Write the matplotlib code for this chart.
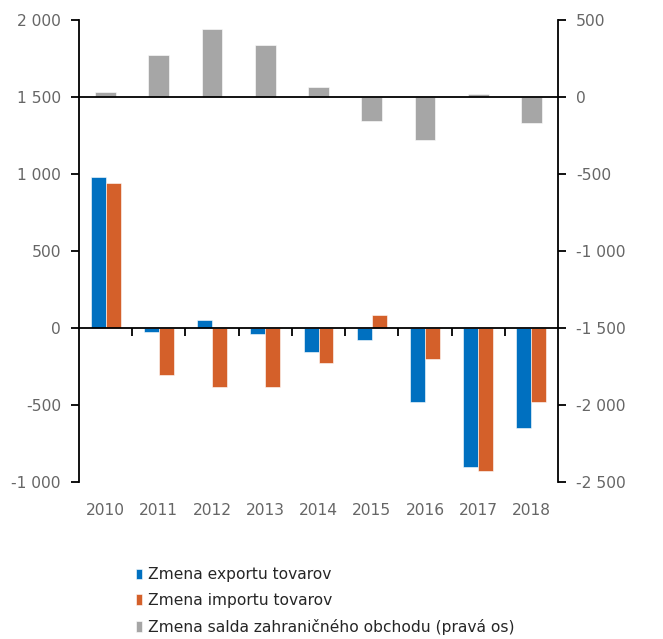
import numpy as np
import matplotlib.pyplot as plt
from matplotlib.ticker import FuncFormatter

# Data
years = ["2010", "2011", "2012", "2013", "2014", "2015", "2016", "2017", "2018"]
export_chg = [980, -26, 55, -41, -156, -75, -483, -903, -651]
import_chg = [940, -303, -383, -383, -229, 87, -199, -929, -483]
balance_chg = [34, 271, 440, 336, 67, -158, -281, 17, -169]

labels = ["Zmena exportu tovarov",
          "Zmena importu tovarov",
          "Zmena salda zahraničného obchodu (pravá os)"]

c_exp = "#0070C0"
c_imp = "#D4602A"
c_bal = "#A6A6A6"
tick_col = "#666666"
fs = 11.2

plt.rcParams['font.family'] = ['DejaVu Sans']

fig = plt.figure(figsize=(6.63, 6.39), dpi=100)
ax = fig.add_axes([0.1192, 0.2457, 0.7224, 0.7230])
ax2 = ax.twinx()

x = np.arange(len(years))
w = 0.28
b1 = ax.bar(x - w / 2, export_chg, w, color=c_exp, edgecolor="white", linewidth=0.4)
b2 = ax.bar(x + w / 2, import_chg, w, color=c_imp, edgecolor="white", linewidth=0.4)
b3 = ax2.bar(x, balance_chg, 0.39, color=c_bal, edgecolor="white", linewidth=0.4)

ax.set_xlim(-0.5, len(years) - 0.5)
ax.set_ylim(-1000, 2000)
ax2.set_ylim(-2500, 500)
ax.set_yticks(np.arange(-1000, 2001, 500))
ax2.set_yticks(np.arange(-2500, 501, 500))

fmt = FuncFormatter(lambda v, p: f"{int(v):,}".replace(",", " "))
ax.yaxis.set_major_formatter(fmt)
ax2.yaxis.set_major_formatter(fmt)

# category boundary ticks on the zero line of the left axis
sec = ax.secondary_xaxis(1 / 3)
sec.set_xticks(np.arange(0.5, len(years) - 1, 1.0))
sec.set_xticklabels([])
sec.tick_params(axis="x", direction="out", length=6, width=1.3, color="black")
sec.spines["bottom"].set_visible(False)

# zero lines, drawn on top of the bars
ax2.axhline(0, color="black", linewidth=1.3, zorder=5)
ax2.axhline(-1500, color="black", linewidth=1.3, zorder=5)

ax.set_xticks(x)
ax.set_xticklabels(years)
ax.tick_params(axis="x", length=0, pad=15, labelsize=fs, labelcolor=tick_col)
ax.tick_params(axis="y", direction="out", length=6, width=1.3, pad=7,
               labelsize=fs, labelcolor=tick_col)
ax2.tick_params(axis="y", direction="out", length=6, width=1.3, pad=7,
                labelsize=fs, labelcolor=tick_col)

for a in (ax, ax2):
    a.spines["top"].set_visible(False)
    a.spines["bottom"].set_visible(False)
    a.spines["left"].set_linewidth(1.3)
    a.spines["right"].set_linewidth(1.3)
ax.spines["right"].set_visible(False)
ax2.spines["left"].set_visible(False)

fig.legend([b1, b2, b3], labels, loc="upper left", bbox_to_anchor=(0.205, 0.112),
           frameon=False, fontsize=fs, handlelength=0.4, handleheight=0.7,
           handletextpad=0.35, labelspacing=0.68, borderpad=0, borderaxespad=0,
           labelcolor="#262626")

fig.savefig("out.png", dpi=100)
